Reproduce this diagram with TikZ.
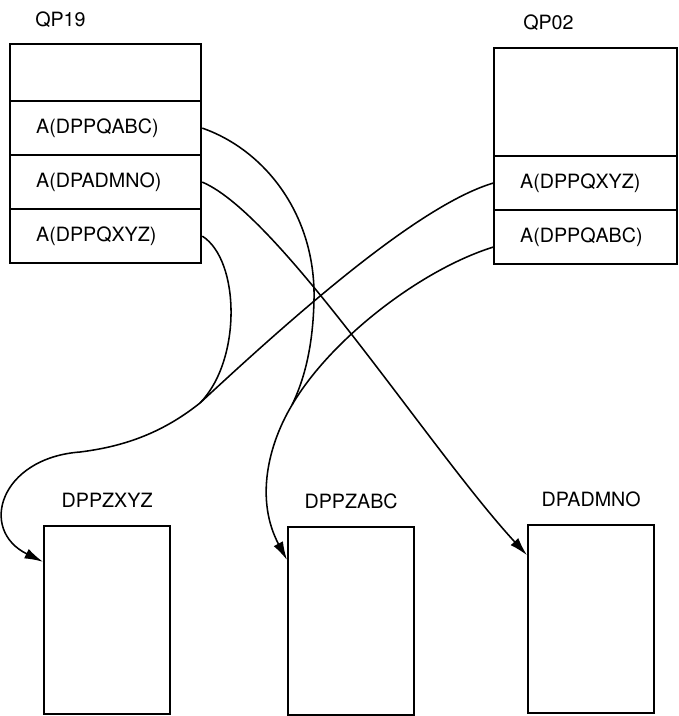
\documentclass[tikz,border=0pt]{standalone}
\usepackage{fontspec}
\setmainfont{TeX Gyre Heros}
\usetikzlibrary{arrows.meta,positioning}

\tikzset{
  box/.style={draw, line width=1.6pt, anchor=north west, inner sep=0pt},
  cellL/.style={box, minimum height=1.35cm, inner xsep=0.65cm, text width=3.475cm, align=left},
  cellR/.style={box, minimum height=1.35cm, inner xsep=0.65cm, text width=3.275cm, align=left},
  store/.style={box, minimum width=3.15cm, minimum height=4.7cm},
  lbl/.style={inner sep=0pt},
  link/.style={line width=1.1pt},
  ptr/.style={link, -{Latex[length=4.6mm,width=2.6mm]}}
}

\begin{document}
\begin{tikzpicture}[x=0.025cm, y=-0.025cm, font=\fontsize{14}{16}\selectfont]
  \useasboundingbox (0,0) rectangle (678,716);
  % Queue QP19
  \node[lbl, anchor=base west] (qp19) at (35,27) {QP19};
  \node[box, minimum width=4.775cm, minimum height=1.425cm] (qp19top) at (9,43) {};
  \node[cellL] (qp19abc) at (9,100) {A(DPPQABC)};
  \node[cellL] (qp19adm) at (9,154) {A(DPADMNO)};
  \node[cellL] (qp19xyz) at (9,208) {A(DPPQXYZ)};
  % Queue QP02
  \node[lbl, anchor=base west] (qp02) at (523,30) {QP02};
  \node[box, minimum width=4.575cm, minimum height=2.7cm] (qp02top) at (493,47) {};
  \node[cellR] (qp02xyz) at (493,155) {A(DPPQXYZ)};
  \node[cellR] (qp02abc) at (493,209) {A(DPPQABC)};
  % Data areas
  \node[store] (dppzxyz) at (43,525) {};
  \node[store] (dppzabc) at (287,526) {};
  \node[store] (dpadmno) at (527,524) {};
  \node[lbl, above=0.42cm of dppzxyz] (dppzxyzlbl) {DPPZXYZ};
  \node[lbl, above=0.42cm of dppzabc] (dppzabclbl) {DPPZABC};
  \node[lbl, above=0.42cm of dpadmno] (dpadmnolbl) {DPADMNO};
  % Where the pointers join
  \coordinate (mxyz) at (200,403);
  \coordinate (mabc) at (292,405);
  % Pointers
  \draw[link] (qp19xyz.east) .. controls (240,260) and (242,360) .. (mxyz);
  \draw[link] (qp02xyz.west) .. controls (420,205) and (300,310) .. (mxyz);
  \draw[ptr] (mxyz) .. controls (160,435) and (120,447) .. (80,452)
    .. controls (0,458) and (-22,530) .. ([yshift=-0.92cm]dppzxyz.north west);
  \draw[link] (qp19abc.east) .. controls (265,150) and (316,215) .. (314,300)
    .. controls (313,345) and (305,378) .. (mabc);
  \draw[link] ([yshift=-0.25cm]qp02abc.west) .. controls (420,270) and (330,340) .. (mabc);
  \draw[ptr] (mabc) .. controls (268,445) and (255,500) .. ([yshift=-0.85cm]dppzabc.north west);
  \draw[ptr] (qp19adm.east) .. controls (280,215) and (430,450) .. ([yshift=-0.78cm]dpadmno.north west);
\end{tikzpicture}
\end{document}
